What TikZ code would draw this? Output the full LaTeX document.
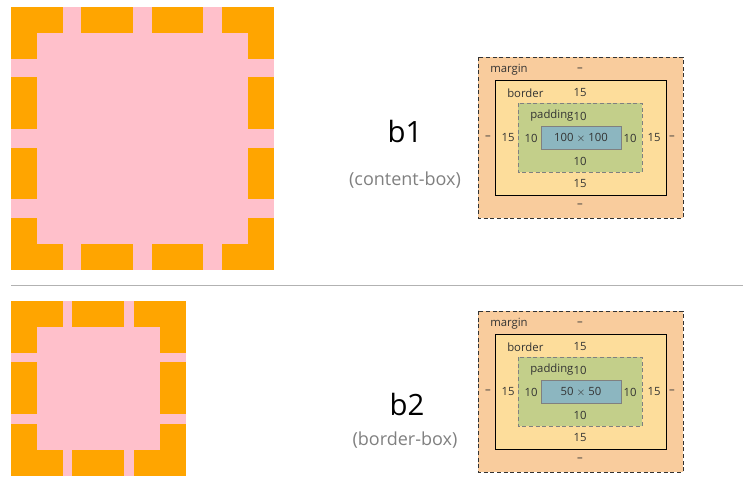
\documentclass[tikz,border=0pt]{standalone}
\usepackage{fontspec}
\setmainfont{Open Sans}
\definecolor{mcol}{HTML}{F9CC9D}
\definecolor{bcol}{HTML}{FDDD9B}
\definecolor{pcol}{HTML}{C3CF8A}
\definecolor{ccol}{HTML}{8CB6C0}
\definecolor{org}{HTML}{FFA500}
\definecolor{pnk}{HTML}{FFC0CB}
\begin{document}
\begin{tikzpicture}[x=0.75pt,y=-0.75pt,
  lbl/.style={inner sep=0pt,font=\fontsize{8.5}{10}\selectfont,text=black!80},
  big/.style={inner sep=0pt,font=\fontsize{22}{26}\selectfont},
  sub/.style={inner sep=0pt,font=\fontsize{13.5}{16}\selectfont,text=gray}]
\useasboundingbox (0,0) rectangle (743,493);
% top square
\fill[pnk] (11,7) rectangle (274,270);
\foreach \a/\b in {0/52,70/122,141/192,211/263}{
  \fill[org] (11+\a,7) rectangle (11+\b,33);
  \fill[org] (11+\a,244) rectangle (11+\b,270);
  \fill[org] (11,7+\a) rectangle (37,7+\b);
  \fill[org] (248,7+\a) rectangle (274,7+\b);
}
% bottom square
\fill[pnk] (11,301) rectangle (186,476);
\foreach \a/\b in {0/52,61/113,123/175}{
  \fill[org] (11+\a,301) rectangle (11+\b,327);
  \fill[org] (11+\a,450) rectangle (11+\b,476);
  \fill[org] (11,301+\a) rectangle (37,301+\b);
  \fill[org] (160,301+\a) rectangle (186,301+\b);
}
\coordinate (sepL) at (11,285);
\coordinate (sepR) at (743,285);
\draw[black!30] (sepL) -- (sepR);
\node[big] (b1) at (405,131) {b1};
\node[sub] (c1) at (405,180) {(content-box)};
\node[big] (b2) at (407,404) {b2};
\node[sub] (c2) at (405,440) {(border-box)};
\foreach \dy/\t/\nm in {0/100 $\times$ 100/t,254/50 $\times$ 50/u}{
\begin{scope}[yshift=-0.75*\dy pt]
\draw[densely dashed,black!80,fill=mcol] (478,57) rectangle (683,218);
\draw[black,fill=bcol] (495,80) rectangle (666,195);
\draw[densely dashed,gray,fill=pcol] (518,103) rectangle (642,172);
\draw[gray,fill=ccol] (541,126) rectangle (621,149);
\node[lbl] (\nm cont) at (581,138) {\t};
\node[lbl,anchor=west] (\nm m) at (490,70) {margin};
\node[lbl] (\nm mt) at (580,70) {–};
\node[lbl,anchor=west] (\nm b) at (507,93) {border};
\node[lbl] (\nm bt) at (580,93) {15};
\node[lbl,anchor=west] (\nm p) at (530,116) {padding};
\node[lbl] (\nm pt) at (580,116) {10};
\node[lbl] (\nm ml) at (488,138) {–};
\node[lbl] (\nm bl) at (508,138) {15};
\node[lbl] (\nm pl) at (531,138) {10};
\node[lbl] (\nm pr) at (630,138) {10};
\node[lbl] (\nm br) at (654,138) {15};
\node[lbl] (\nm mr) at (672,138) {–};
\node[lbl] (\nm pb) at (580,161) {10};
\node[lbl] (\nm bb) at (580,184) {15};
\node[lbl] (\nm mb) at (580,206) {–};
\end{scope}}
\end{tikzpicture}
\end{document}
